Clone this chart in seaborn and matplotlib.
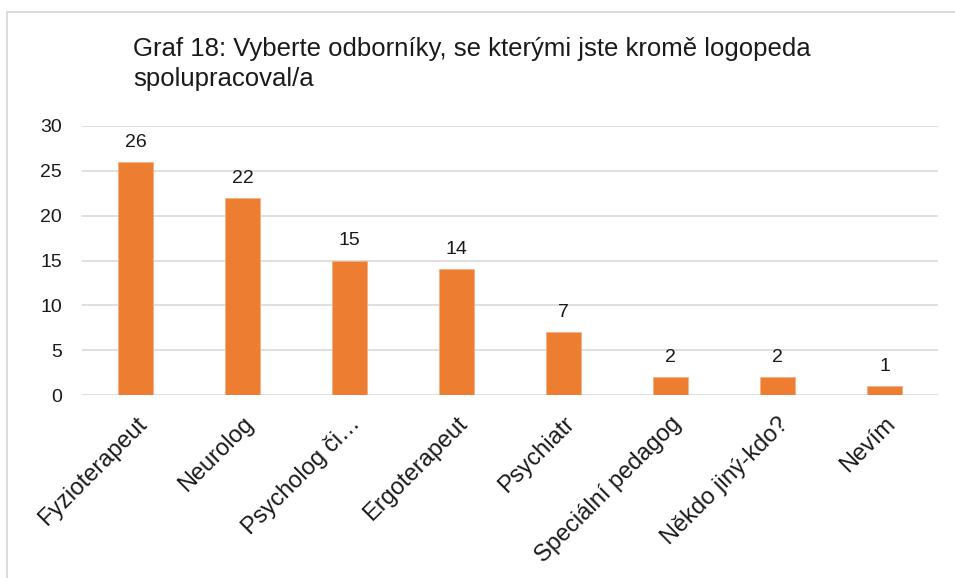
import matplotlib
matplotlib.use("Agg")
import matplotlib.pyplot as plt
import seaborn as sns
import pandas as pd
from matplotlib.lines import Line2D

categories = ["Fyzioterapeut", "Neurolog", "Psycholog či…", "Ergoterapeut",
              "Psychiatr", "Speciální pedagog", "Někdo jiný-kdo?", "Nevím"]
values = [26, 22, 15, 14, 7, 2, 2, 1]
yticks = [0, 5, 10, 15, 20, 25, 30]
title = "Graf 18: Vyberte odborníky, se kterými jste kromě logopeda\nspolupracoval/a"

sns.set_theme(style="white")
plt.rcParams['font.family'] = ['Liberation Sans', 'DejaVu Sans']

W, H = 955, 578
fig = plt.figure(figsize=(W/100, H/100), dpi=100)
ax = fig.add_axes([82/W, 1-395/H, (938-82)/W, (395-126)/H])

df = pd.DataFrame({"cat": categories, "val": values})
sns.barplot(data=df, x="cat", y="val", color="#ED7D31", width=0.32,
            saturation=1, ax=ax, edgecolor="#F4B183", linewidth=0.6)

ax.set_ylim(0, 30)
ax.set_yticks(yticks)
ax.set_yticklabels([str(t) for t in yticks], fontsize=14, color="#1a1a1a")
ax.set_xlim(-0.5, len(categories)-0.5)
ax.set_xlabel("")
ax.set_ylabel("")
for t in yticks:
    ax.axhline(t, color="#D9D9D9", lw=1.2, zorder=0)
ax.set_axisbelow(True)
for s in ax.spines.values():
    s.set_visible(False)
ax.tick_params(axis="y", length=0, pad=14.5)
ax.tick_params(axis="x", length=0, pad=13)
ax.set_xticks(range(len(categories)))
ax.set_xticklabels(categories, rotation=45, ha="right", rotation_mode="anchor",
                   fontsize=17, color="#1a1a1a")

for i, v in enumerate(values):
    ax.annotate(str(v), (i, v), xytext=(0, 8), textcoords="offset points",
                ha="center", va="bottom", fontsize=14, color="#1a1a1a")

fig.text(133/W, 1-37/H, title, ha="left", va="top", fontsize=18.5,
         color="#1a1a1a", linespacing=1.3)

fig.add_artist(Line2D([7/W, 1], [1-12/H, 1-12/H], color="#D9D9D9", lw=1.3,
                      transform=fig.transFigure))
fig.add_artist(Line2D([7/W, 7/W], [0, 1-12/H], color="#D9D9D9", lw=1.3,
                      transform=fig.transFigure))

fig.savefig("out.png", dpi=100, facecolor="white")
